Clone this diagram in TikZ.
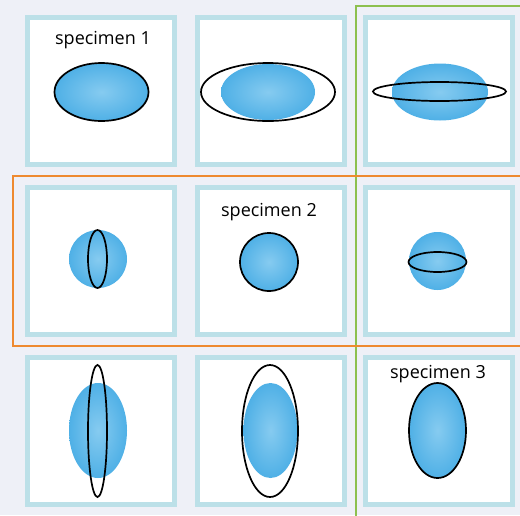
\documentclass[tikz,border=0pt]{standalone}
\usepackage{fontspec}
\setmainfont{Open Sans}
\usetikzlibrary{shapes.geometric}
\definecolor{bgcol}{HTML}{EEF0F7}
\definecolor{panelblue}{HTML}{BCE0E8}
\definecolor{blobin}{HTML}{86CBF0}
\definecolor{blobout}{HTML}{4FB0E6}
\definecolor{greenline}{HTML}{8DC04F}
\definecolor{orangeline}{HTML}{EE8A30}
\begin{document}
\begin{tikzpicture}[x=1pt,y=-1pt,
  panel/.style={draw=panelblue, line width=5pt, fill=white, minimum width=147pt, minimum height=147pt, inner sep=0pt},
  blob/.style={ellipse, inner sep=0pt, outer sep=0pt, draw=none, inner color=blobin, outer color=blobout},
  ring/.style={ellipse, inner sep=0pt, outer sep=0pt, draw=black, line width=1.7pt},
  spec/.style={ellipse, inner sep=0pt, outer sep=0pt, draw=black, line width=1.7pt, inner color=blobin, outer color=blobout},
  lbl/.style={font=\fontsize{18}{21}\selectfont, inner sep=0pt, text=black},
  frame/.style={line width=2pt}]
\useasboundingbox (0,0) rectangle (520,515);
\fill[bgcol] (0,0) rectangle (520,515);
% outer frames
\draw[frame, draw=greenline] (356,530) -- (356,6) -- (530,6);
\draw[frame, draw=orangeline] (530,176) -- (13,176) -- (13,346) -- (530,346);
% panels
\node[panel] (p11) at (101,91) {};
\node[panel] (p12) at (270.5,91) {};
\node[panel] (p13) at (438.5,91) {};
\node[panel] (p21) at (101,261) {};
\node[panel] (p22) at (270.5,261) {};
\node[panel] (p23) at (438.5,261) {};
\node[panel] (p31) at (101,431) {};
\node[panel] (p32) at (270.5,431) {};
\node[panel] (p33) at (438.5,431) {};
% row 1
\node[lbl] (t1) at (103,40) {specimen 1};
\node[spec, minimum width=94pt, minimum height=58pt] (s1) at (101.5,92) {};
\node[blob, minimum width=94pt, minimum height=56pt] (b12) at (268,92) {};
\node[ring, minimum width=134pt, minimum height=58pt] (r12) at (268,92) {};
\node[blob, minimum width=96pt, minimum height=57pt] (b13) at (440,92) {};
\node[ring, minimum width=133pt, minimum height=19pt] (r13) at (439.5,91.5) {};
% row 2
\node[blob, minimum width=58pt, minimum height=58pt] (b21) at (98,259) {};
\node[ring, minimum width=19pt, minimum height=58pt] (r21) at (97.5,259) {};
\node[lbl] (t2) at (269,212) {specimen 2};
\node[spec, minimum width=58pt, minimum height=58pt] (s2) at (269,262) {};
\node[blob, minimum width=57pt, minimum height=58pt] (b23) at (437.5,261) {};
\node[ring, minimum width=58pt, minimum height=20pt] (r23) at (437.5,262) {};
% row 3
\node[blob, minimum width=58pt, minimum height=95pt] (b31) at (98,430.5) {};
\node[ring, minimum width=19pt, minimum height=132pt] (r31) at (97.5,431) {};
\node[blob, minimum width=54pt, minimum height=95pt] (b32) at (270.5,430.5) {};
\node[ring, minimum width=56pt, minimum height=132pt] (r32) at (270,431) {};
\node[lbl] (t3) at (438,374) {specimen 3};
\node[spec, minimum width=57pt, minimum height=95pt] (s3) at (437.5,430.5) {};
\end{tikzpicture}
\end{document}
